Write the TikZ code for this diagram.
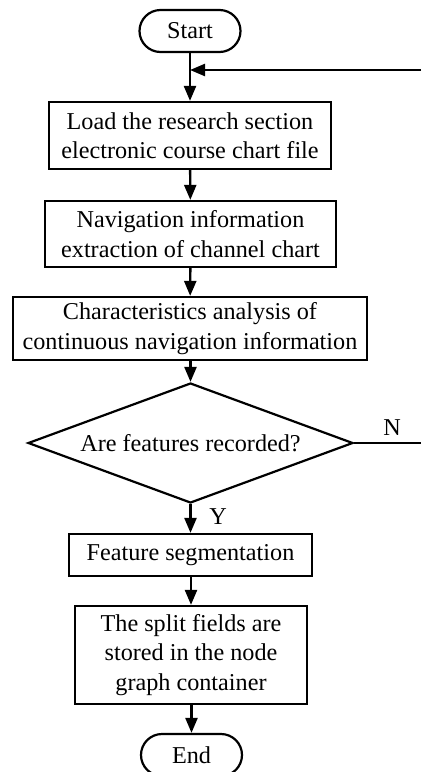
\documentclass[tikz,border=0pt]{standalone}
\usepackage{fontspec}
\setmainfont{Liberation Serif}
\usetikzlibrary{arrows.meta,shapes.geometric}
\begin{document}
\begin{tikzpicture}[x=1pt,y=-1pt,
  every node/.style={font=\fontsize{24.2}{29.5}\selectfont},
  box/.style={draw,line width=2.2pt,align=center,inner sep=0pt},
  pill/.style={draw,line width=2.2pt,rounded corners=21pt,minimum width=101pt,minimum height=42pt,inner sep=0pt},
  decision/.style={draw,diamond,line width=2.2pt,aspect=2.7,minimum width=325pt,minimum height=120pt,inner sep=0pt},
  arr/.style={line width=2.4pt,-{Triangle[length=15pt,width=12pt]}},
  ln/.style={line width=2.4pt},
  lbl/.style={inner sep=0pt}]
\useasboundingbox (0,0) rectangle (421,772);
\node[pill] (start) at (190,31) {Start};
\node[box,minimum width=282pt,minimum height=67pt] (b1) at (190,135.5) {Load the research section\\electronic course chart file};
\node[box,minimum width=291pt,minimum height=66pt] (b2) at (190.5,234) {Navigation information\\extraction of channel chart};
\node[box,minimum width=354pt,minimum height=63pt] (b3) at (190,328.5) {Characteristics analysis of\\continuous navigation information};
\node[decision] (dia) at (190.5,443) {Are features recorded?};
\node[box,minimum width=243pt,minimum height=42pt] (b4) at (190.5,555) {Feature segmentation};
\node[box,minimum width=232pt,minimum height=98pt] (b5) at (191,655) {The split fields are\\stored in the node\\graph container};
\node[pill] (end) at (191.5,755) {End};
\node[lbl] (nl) at (392,428) {N};
\node[lbl] (yl) at (218,517) {Y};
\coordinate (nEnd) at (421,443);
\coordinate (fbR) at (421,70);
\draw[arr] (start) -- (b1);
\draw[arr] (b1) -- (b2);
\draw[arr] (b2) -- (b3);
\draw[arr] (b3.south -| dia.north) -- (dia.north);
\draw[arr] (dia.south) -- (dia.south |- b4.north);
\draw[arr] (b4.south -| b5.north) -- (b5.north);
\draw[arr] (b5.south -| end.north) -- (end.north);
\draw[ln] (dia.east) -- (nEnd);
\draw[arr] (fbR) -- (fbR -| start.south);
\end{tikzpicture}
\end{document}
